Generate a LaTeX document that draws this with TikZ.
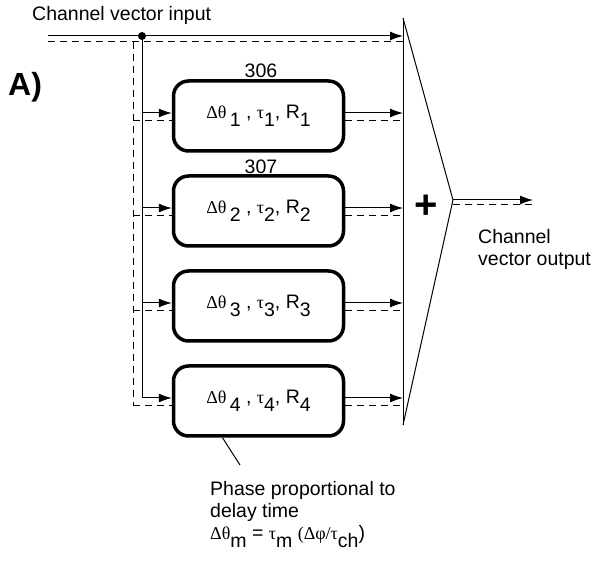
\documentclass[tikz,border=0pt]{standalone}
\usepackage{fontspec}
\setmainfont{Liberation Sans}
\newfontfamily\greekfont{Liberation Serif}
\usetikzlibrary{arrows.meta}

\newcommand{\gr}[1]{{\greekfont\fontsize{18}{18}\selectfont #1}}
\newcommand{\lo}[1]{\raisebox{-8pt}{#1}}

\begin{document}
\begin{tikzpicture}[x=1pt, y=-1pt,
    txt/.style = {font=\fontsize{19.5}{22}\selectfont, inner sep=0pt},
    wire/.style = {line width=1pt},
    sig/.style = {wire, -{Latex[length=13pt, width=9pt]}},
    dsig/.style = {wire, dash pattern=on 7pt off 5pt},
    delaybox/.style = {draw, line width=3.5pt, rounded corners=15pt,
      minimum width=170pt, minimum height=70pt, txt}]
  \useasboundingbox (0,0) rectangle (595,561);

  \coordinate (inS) at (48,36);
  \coordinate (inD) at (48,42);
  \coordinate (split) at (142,36);
  \coordinate (splitD) at (133,42);
  \coordinate (sumtop) at (403,18);
  \coordinate (sumbot) at (403,425);
  \coordinate (apex) at (453,200);
  \coordinate (outS) at (533,200);
  \coordinate (outD) at (533,205);
  \coordinate (leadEnd) at (240,465);

  \node[txt, anchor=base west] (inlabel) at (32,21) {Channel vector input};
  \node[font=\fontsize{32}{32}\selectfont\bfseries, inner sep=0pt, anchor=base west] (part) at (8,96) {A)};
  \node[txt, anchor=base] (n306) at (261,78) {306};
  \node[txt, anchor=base] (n307) at (261,174) {307};

  % input bus
  \draw[sig] (inS) -- (inS -| sumtop);
  \draw[dsig] (inD) -- (inD -| sumtop);
  \fill (split) circle (4pt);

  % delay branches
  \foreach \i/\yc in {1/116, 2/211, 3/306, 4/401} {
    \node[delaybox] (d\i) at (258.5,\yc) {\gr{Δθ}\,\lo{\i} , \gr{τ}\lo{\i}, R\lo{\i}};
    \draw[sig] ([yshift=3pt]d\i.west -| split) -- ([yshift=3pt]d\i.west);
    \draw[dsig] ([yshift=-5pt]d\i.west -| splitD) -- ([yshift=-5pt]d\i.west);
    \draw[sig] ([yshift=3pt]d\i.east) -- ([yshift=3pt]d\i.east -| sumtop);
    \draw[dsig] ([yshift=-5pt]d\i.east) -- ([yshift=-5pt]d\i.east -| sumtop);
  }
  \draw[wire] (split) -- ([yshift=3pt]d4.west -| split);
  \draw[dsig] (splitD) -- ([yshift=-5pt]d4.west -| splitD);

  % summer
  \draw[wire] (sumtop) -- (sumbot);
  \draw[wire] (sumtop) -- (apex) -- (sumbot);
  \node[font=\fontsize{40}{40}\selectfont\bfseries, inner sep=0pt] (plus) at (426,207) {+};
  \draw[sig] (apex) -- (outS);
  \draw[dsig] ([yshift=-5pt]apex) -- (outD);
  \node[txt, anchor=north west, align=left] (outlabel) at (478,229) {Channel\\vector output};

  \draw[wire] ([xshift=-36pt]d4.south) -- (leadEnd);
  \node[txt, anchor=north west, align=left] (note) at (210,481)
    {Phase proportional to\\delay time\\\gr{Δθ}\lo{m} = \gr{τ}\lo{m} \gr{(Δφ/τ}\lo{ch})};
\end{tikzpicture}
\end{document}
